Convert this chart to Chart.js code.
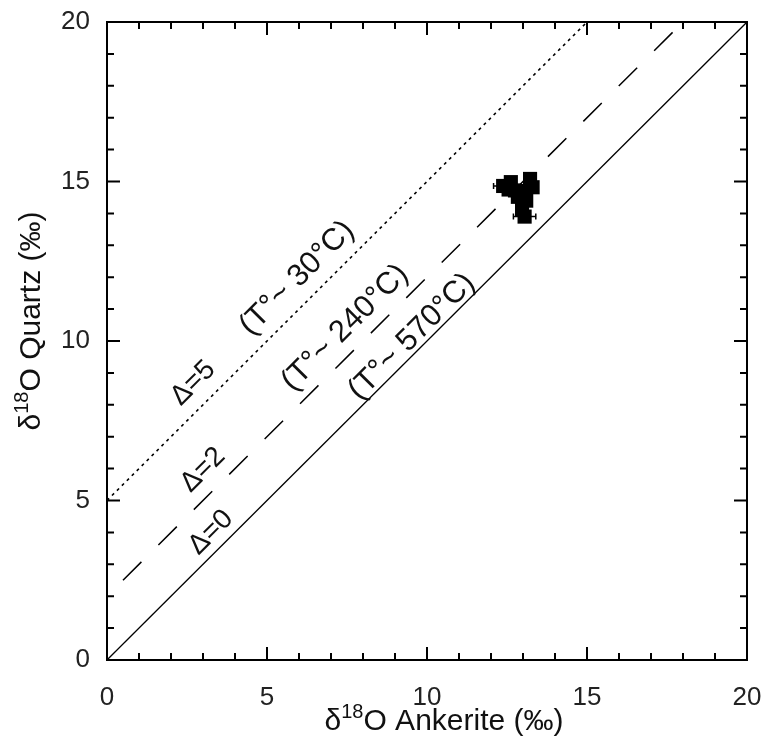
<!DOCTYPE html>
<html>
<head>
<meta charset="utf-8">
<script src="https://cdn.jsdelivr.net/npm/chart.js@4"></script>
<style>
  body { margin: 0; background: #fff; }
  #wrap { width: 768px; height: 743px; }
</style>
</head>
<body>
<div id="wrap"><canvas id="isoChart"></canvas></div>
<script>
// =========================================
// DATA
// =========================================

// sample values, d18O ankerite (x) vs d18O quartz (y)
const ankeriteO = [12.38, 12.62, 12.55, 13.22, 13.3, 12.84, 12.97, 13.05, 12.75, 13.1, 13.0];
const quartzO   = [14.86, 14.98, 14.75, 15.08, 14.82, 14.52, 14.12, 13.9, 14.72, 14.4, 14.7];
const ankeriteErr = [0.3, 0.15, 0.15, 0.15, 0.15, 0.15, 0.15, 0.35, 0.15, 0.15, 0.15];

// fractionation lines y = x + delta
const lineDelta0 = { x: [0, 20],   y: [0, 20] };
const lineDelta2 = { x: [0.5, 18], y: [2.5, 20] };
const lineDelta5 = { x: [0, 15],   y: [5, 20] };

// rotated labels on the lines
const noteText = ["\u0394=5", "(T\u00b0~ 30\u00b0C)", "\u0394=2", "(T\u00b0~ 240\u00b0C)", "\u0394=0", "(T\u00b0~ 570\u00b0C)"];
const noteX    = [2.69, 5.94, 3.0, 7.44, 3.25, 9.53];
const noteY    = [8.68, 11.97, 5.96, 10.41, 4.0, 10.13];

const axisMin = 0;
const axisMax = 20;


// =========================================
// HELPERS / PLUGINS
// =========================================

function toPoints(xs, ys) {
  return xs.map((x, i) => ({ x: x, y: ys[i] }));
}

// x error bars under the points
const errorBars = {
  id: "errorBars",
  beforeDatasetsDraw(chart) {
    const { ctx, scales: { x, y } } = chart;
    ctx.save();
    ctx.strokeStyle = "#000";
    ctx.lineWidth = 1.5;
    ankeriteO.forEach((v, i) => {
      const py = y.getPixelForValue(quartzO[i]);
      const x1 = x.getPixelForValue(v - ankeriteErr[i]);
      const x2 = x.getPixelForValue(v + ankeriteErr[i]);
      ctx.beginPath();
      ctx.moveTo(x1, py); ctx.lineTo(x2, py);
      ctx.moveTo(x1, py - 3); ctx.lineTo(x1, py + 3);
      ctx.moveTo(x2, py - 3); ctx.lineTo(x2, py + 3);
      ctx.stroke();
    });
    ctx.restore();
  }
};

// title with a raised "18"
function drawIsoTitle(ctx, rest, cx, cy, rot) {
  const big = "30px 'Liberation Sans', Arial, sans-serif";
  const small = "20px 'Liberation Sans', Arial, sans-serif";
  ctx.save();
  ctx.translate(cx, cy);
  ctx.rotate(rot);
  ctx.fillStyle = "#111";
  ctx.textBaseline = "alphabetic";
  ctx.textAlign = "left";
  ctx.font = big;
  const w1 = ctx.measureText("\u03b4").width;
  const w3 = ctx.measureText(rest).width;
  ctx.font = small;
  const w2 = ctx.measureText("18").width;
  let px = -(w1 + w2 + w3) / 2;
  ctx.font = big;
  ctx.fillText("\u03b4", px, 10);
  px += w1;
  ctx.font = small;
  ctx.fillText("18", px, -2);
  px += w2;
  ctx.font = big;
  ctx.fillText(rest, px, 10);
  ctx.restore();
}

// box frame with inward ticks on all four sides
const frameTicks = {
  id: "frameTicks",
  afterDraw(chart) {
    const { ctx, chartArea: a, scales: { x, y } } = chart;
    ctx.save();
    ctx.strokeStyle = "#000";
    ctx.lineWidth = 2;
    ctx.strokeRect(a.left, a.top, a.right - a.left, a.bottom - a.top);
    ctx.beginPath();
    x.ticks.forEach(t => {
      const px = x.getPixelForValue(t.value);
      const len = t.value % 5 === 0 ? 13 : 7;
      ctx.moveTo(px, a.bottom); ctx.lineTo(px, a.bottom - len);
      ctx.moveTo(px, a.top); ctx.lineTo(px, a.top + len);
    });
    y.ticks.forEach(t => {
      const py = y.getPixelForValue(t.value);
      const len = t.value % 5 === 0 ? 13 : 7;
      ctx.moveTo(a.left, py); ctx.lineTo(a.left + len, py);
      ctx.moveTo(a.right, py); ctx.lineTo(a.right - len, py);
    });
    ctx.stroke();

    // line labels
    ctx.fillStyle = "#111";
    ctx.textAlign = "center";
    ctx.textBaseline = "middle";
    noteText.forEach((s, i) => {
      ctx.save();
      ctx.font = (s[0] === "(" ? 31 : 28) + "px 'Liberation Sans', Arial, sans-serif";
      ctx.translate(x.getPixelForValue(noteX[i]), y.getPixelForValue(noteY[i]));
      ctx.rotate(-Math.PI / 4);
      ctx.fillText(s, 0, 0);
      ctx.restore();
    });
    ctx.restore();

    // axis titles
    const midX = (a.left + a.right) / 2;
    const midY = (a.top + a.bottom) / 2;
    drawIsoTitle(ctx, "O Ankerite (\u2030)", midX + 17, a.bottom + 60, 0);
    drawIsoTitle(ctx, "O Quartz (\u2030)", 30, midY - 20, -Math.PI / 2);
  }
};


// =========================================
// CHART
// =========================================

const tickFont = { family: "'Liberation Sans', Arial, sans-serif", size: 26 };

new Chart(document.getElementById("isoChart"), {

  type: "scatter",

  data: {
    datasets: [
      {
        label: "\u0394=0",
        data: toPoints(lineDelta0.x, lineDelta0.y),
        showLine: true,
        borderColor: "#000",
        borderWidth: 1.3,
        pointRadius: 0
      },
      {
        label: "\u0394=2",
        data: toPoints(lineDelta2.x, lineDelta2.y),
        showLine: true,
        borderColor: "#000",
        borderWidth: 1.5,
        borderDash: [26, 24],
        pointRadius: 0
      },
      {
        label: "\u0394=5",
        data: toPoints(lineDelta5.x, lineDelta5.y),
        showLine: true,
        borderColor: "#000",
        borderWidth: 1.6,
        borderDash: [3, 4],
        pointRadius: 0
      },
      {
        label: "samples",
        data: toPoints(ankeriteO, quartzO),
        pointStyle: "rect",
        pointRadius: 10,
        backgroundColor: "#000",
        borderColor: "#000",
        borderWidth: 0
      }
    ]
  },

  options: {
    responsive: true,
    maintainAspectRatio: false,
    animation: false,
    layout: { padding: { top: 22, right: 21, left: 0, bottom: 0 } },
    plugins: {
      legend: { display: false },
      tooltip: { enabled: false }
    },
    scales: {
      x: {
        min: axisMin,
        max: axisMax,
        afterFit(s) {
          s.height = 83;
          s.paddingLeft = 0;
          s.paddingRight = 0;
        },
        grid: { display: false, drawTicks: false },
        border: { display: false },
        ticks: {
          stepSize: 1,
          autoSkip: false,
          maxRotation: 0,
          padding: 22,
          color: "#222",
          font: tickFont,
          callback: v => (v % 5 === 0 ? v : "")
        }
      },
      y: {
        min: axisMin,
        max: axisMax,
        afterFit(s) {
          s.width = 107;
          s.paddingTop = 0;
          s.paddingBottom = 0;
        },
        grid: { display: false, drawTicks: false },
        border: { display: false },
        ticks: {
          stepSize: 1,
          autoSkip: false,
          padding: 17,
          color: "#222",
          font: tickFont,
          callback: v => (v % 5 === 0 ? v : "")
        }
      }
    }
  },

  plugins: [errorBars, frameTicks]
});
</script>
</body>
</html>
